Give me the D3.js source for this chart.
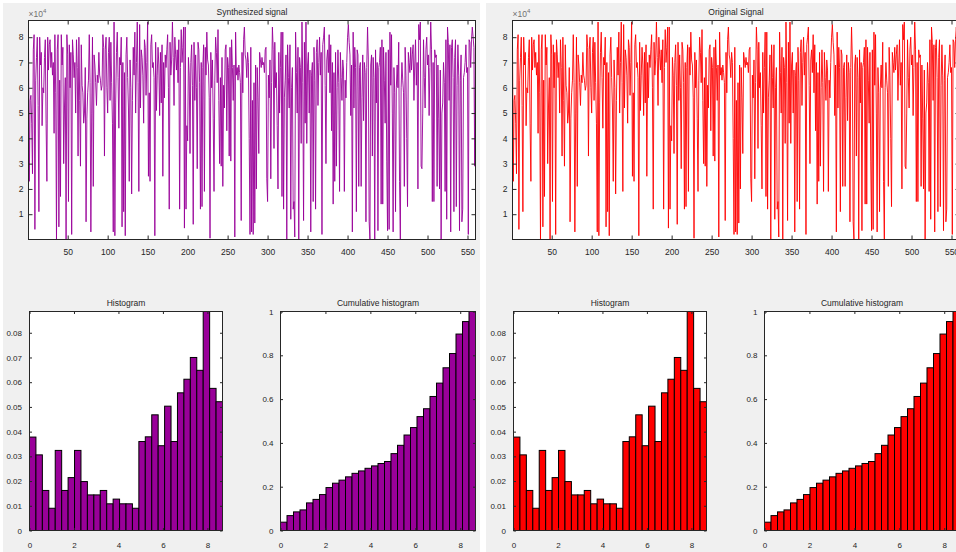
<!DOCTYPE html>
<html>
<head>
<meta charset="utf-8">
<script src="https://cdn.jsdelivr.net/npm/d3@7"></script>
<style>
  body { margin: 0; background: #ffffff; }
  svg { display: block; font-family: "Liberation Sans", Arial, sans-serif; }
  .tick text { fill: #262626; }
  .tick line { stroke: #262626; }
  .domain { stroke: none; }
</style>
</head>
<body>
<script>
// signal, in units of 10^4 (sample 1..560)
var signal = [
  7.8, 2.3, 5.5, 5.7, 4.6, 2.6, 7.5, 8.1, 0.4, 6.3,
  7.2, 8.0, 5.3, 1.1, 8.0, 6.9, 7.4, 4.5, 6.0, 5.8,
  7.2, 7.9, 4.6, 2.3, 8.0, 6.7, 7.7, 7.9, 6.8, 7.4,
  6.5, 7.0, 4.2, 8.1, 5.8, 0.0, 7.5, 8.1, 0.5, 6.3,
  1.7, 8.1, 6.9, 7.6, 3.0, 5.2, 6.4, 0.0, 8.1, 7.3,
  1.5, 7.7, 6.0, 7.4, 0.2, 7.9, 7.3, 6.4, 7.0, 5.0,
  7.9, 6.8, 3.3, 8.0, 5.5, 2.9, 7.7, 6.1, 5.8, 4.6,
  5.0, 6.8, 0.7, 4.8, 5.8, 6.3, 8.1, 6.2, 0.3, 5.0,
  8.0, 2.1, 7.3, 6.9, 6.2, 5.3, 6.5, 6.2, 7.4, 6.5,
  6.3, 5.9, 6.1, 8.1, 7.6, 3.3, 7.5, 8.0, 6.0, 5.0,
  7.4, 8.0, 5.5, 7.8, 6.2, 4.6, 0.3, 8.6, 0.15, 5.4,
  7.4, 8.2, 6.4, 4.4, 7.2, 6.9, 8.0, 0.5, 7.0, 1.1,
  6.6, 0.15, 7.3, 8.0, 6.4, 5.2, 2.3, 7.1, 6.0, 1.8,
  5.5, 7.6, 6.5, 8.2, 5.0, 7.0, 8.6, 6.2, 1.9, 8.5,
  5.2, 7.5, 7.2, 6.5, 4.6, 7.9, 7.6, 5.7, 7.0, 8.6,
  2.5, 5.8, 2.3, 7.7, 8.1, 6.8, 7.0, 6.4, 0.15, 7.8,
  5.1, 6.5, 7.6, 6.9, 4.9, 7.4, 5.4, 7.7, 2.5, 7.0,
  5.6, 7.3, 6.8, 7.5, 8.1, 6.0, 1.2, 7.8, 6.5, 7.1,
  8.6, 7.2, 5.3, 8.0, 7.3, 6.7, 7.5, 6.2, 7.9, 1.2,
  6.8, 8.3, 7.0, 7.6, 8.4, 0.45, 8.4, 1.2, 4.5, 3.9,
  7.2, 6.5, 3.4, 7.0, 7.7, 6.1, 0.6, 7.8, 5.5, 7.3,
  6.0, 2.8, 7.8, 7.5, 6.2, 1.2, 7.0, 1.3, 6.8, 7.7,
  1.9, 7.6, 6.5, 8.2, 7.1, 6.9, 5.6, 0.05, 7.4, 6.0,
  7.1, 4.8, 1.9, 6.3, 8.0, 7.4, 6.2, 8.3, 5.5, 3.0,
  6.4, 2.9, 7.2, 2.1, 6.1, 5.2, 7.5, 7.7, 4.3, 7.2,
  6.8, 3.3, 7.6, 3.1, 7.9, 6.8, 5.5, 6.9, 0.1, 8.2,
  6.5, 6.8, 6.3, 6.9, 6.6, 6.2, 0.75, 7.4, 5.8, 7.9,
  8.4, 7.3, 7.1, 6.4, 7.4, 7.0, 4.0, 0.2, 7.6, 0.3,
  5.5, 0.2, 6.2, 0.65, 6.9, 2.0, 6.8, 5.6, 3.4, 7.4,
  7.1, 6.8, 7.2, 6.9, 7.0, 6.6, 7.5, 7.6, 2.4, 1.5,
  6.5, 5.6, 7.1, 2.4, 6.2, 8.4, 7.5, 3.6, 7.8, 6.0,
  6.6, 4.5, 2.0, 7.4, 5.0, 6.8, 8.2, 1.7, 8.2, 1.2,
  5.6, 6.3, 7.3, 0.0, 7.7, 6.4, 5.2, 7.7, 0.8, 6.0,
  6.8, 1.2, 1.5, 0.1, 8.2, 6.6, 5.0, 7.6, 0.0, 7.2,
  6.8, 3.8, 8.6, 6.2, 0.75, 7.8, 4.6, 8.6, 3.8, 6.9,
  7.4, 5.0, 6.7, 0.3, 6.5, 7.0, 1.5, 7.6, 6.3, 1.2,
  7.4, 7.9, 5.3, 7.0, 8.0, 6.5, 7.4, 0.2, 7.7, 8.0,
  8.4, 6.1, 3.0, 7.1, 7.5, 6.6, 8.1, 5.8, 7.7, 4.3,
  7.0, 1.4, 6.6, 2.3, 7.4, 2.9, 6.0, 7.5, 6.2, 1.9,
  7.4, 6.4, 5.5, 7.1, 6.7, 1.9, 6.3, 5.6, 7.0, 8.0,
  8.5, 7.8, 7.3, 4.9, 6.9, 0.3, 8.2, 5.2, 7.6, 6.8,
  1.1, 7.5, 7.3, 2.1, 6.8, 7.0, 2.1, 5.6, 7.3, 4.7,
  7.0, 6.6, 0.7, 6.8, 8.4, 7.1, 0.7, 0.0, 6.9, 7.3,
  3.3, 7.2, 6.4, 0.0, 7.5, 5.4, 7.0, 0.35, 6.8, 7.0,
  7.6, 1.4, 7.9, 1.4, 7.6, 6.3, 4.6, 7.4, 3.1, 0.35,
  7.5, 0.4, 8.2, 6.1, 8.1, 5.0, 0.3, 6.8, 5.8, 1.1,
  6.0, 6.9, 6.0, 7.8, 2.3, 0.0, 6.0, 7.0, 6.3, 5.8,
  2.1, 7.6, 6.5, 4.0, 1.3, 7.4, 7.0, 6.6, 7.6, 6.7,
  7.3, 7.7, 5.5, 6.9, 7.9, 6.1, 7.0, 2.0, 8.5, 7.9,
  8.6, 2.9, 2.8, 5.0, 7.9, 6.4, 5.2, 7.5, 8.0, 6.9,
  7.3, 4.9, 6.8, 8.6, 7.5, 1.5, 7.0, 1.5, 7.5, 7.2,
  7.3, 2.1, 6.9, 4.8, 2.0, 6.7, 0.0, 5.0, 5.4, 7.0,
  6.2, 1.9, 7.9, 0.8, 8.4, 7.8, 5.5, 7.7, 0.3, 7.6,
  7.9, 6.4, 1.1, 7.2, 7.9, 1.3, 6.1, 7.7, 6.5, 0.35,
  6.3, 7.3, 0.7, 1.2, 6.4, 6.6, 7.0, 7.7, 6.6, 6.8,
  0.2, 7.9, 7.8, 6.8, 7.9, 8.4, 8.0, 7.6, 2.9, 7.9
];

// 30 bins over [0, 8.68]
var histValues = [
  0.0378, 0.0306, 0.0162, 0.0090, 0.0324, 0.0162, 0.0214, 0.0324, 0.0198, 0.0144,
  0.0144, 0.0162, 0.0108, 0.0127, 0.0108, 0.0108, 0.0090, 0.0360, 0.0379, 0.0468,
  0.0343, 0.0503, 0.0360, 0.0557, 0.0612, 0.0700, 0.0648, 0.0886, 0.0575, 0.0521
];
var cumValues = [
  0.038, 0.068, 0.085, 0.094, 0.126, 0.142, 0.164, 0.196, 0.216, 0.230,
  0.245, 0.261, 0.272, 0.284, 0.295, 0.306, 0.315, 0.351, 0.389, 0.436,
  0.470, 0.520, 0.556, 0.612, 0.673, 0.743, 0.808, 0.897, 0.954, 1.000
];
var histRange = [0, 8.68];

var signalTicksX = [50, 100, 150, 200, 250, 300, 350, 400, 450, 500, 550];
var signalTicksY = [1, 2, 3, 4, 5, 6, 7, 8];
var histTicksX = [0, 2, 4, 6, 8];
var histTicksY = [0, 0.01, 0.02, 0.03, 0.04, 0.05, 0.06, 0.07, 0.08];
var cumTicksY = [0, 0.2, 0.4, 0.6, 0.8, 1];

var panels = [
  {title: "Synthesized signal", color: "#990099", offset: 0, left: 3, right: 480},
  {title: "Original Signal", color: "#ff0000", offset: 484, left: 486, right: 956}
];

var width = 956, height = 552;
var fmt = function(d) { return String(+d.toFixed(4)); };

var svg = d3.select("body").append("svg")
  .attr("width", width)
  .attr("height", height);

// draws the box, mirrored inward ticks and labels for one axes
function drawAxes(g, x, y, xTicks, yTicks, tickLen, padX, padY, fontSize) {
  var x0 = x.range()[0], x1 = x.range()[1];
  var y0 = y.range()[1], y1 = y.range()[0];

  g.append("g")
    .attr("transform", "translate(0," + y1 + ")")
    .call(d3.axisBottom(x).tickValues(xTicks).tickFormat(fmt)
      .tickSizeInner(-tickLen).tickSizeOuter(0).tickPadding(padX))
    .style("font-size", fontSize + "px");

  g.append("g")
    .attr("transform", "translate(0," + y0 + ")")
    .call(d3.axisTop(x).tickValues(xTicks).tickFormat("")
      .tickSizeInner(-tickLen).tickSizeOuter(0));

  g.append("g")
    .attr("transform", "translate(" + x0 + ",0)")
    .call(d3.axisLeft(y).tickValues(yTicks).tickFormat(fmt)
      .tickSizeInner(-tickLen).tickSizeOuter(0).tickPadding(padY))
    .style("font-size", fontSize + "px");

  g.append("g")
    .attr("transform", "translate(" + x1 + ",0)")
    .call(d3.axisRight(y).tickValues(yTicks).tickFormat("")
      .tickSizeInner(-tickLen).tickSizeOuter(0));

  g.selectAll(".tick text").attr("font-family", null);
  g.selectAll("g").attr("font-family", null);

  g.append("rect")
    .attr("x", x0).attr("y", y0)
    .attr("width", x1 - x0).attr("height", y1 - y0)
    .attr("fill", "none")
    .attr("stroke", "#262626")
    .attr("stroke-width", 1);
}

function addTitle(g, x, y, text) {
  g.append("text")
    .attr("x", (x.range()[0] + x.range()[1]) / 2)
    .attr("y", y)
    .attr("text-anchor", "middle")
    .style("font-size", "8.5px")
    .attr("fill", "#262626")
    .text(text);
}

function drawPanel(p, idx) {
  var clipId = "fig" + idx;
  svg.append("clipPath").attr("id", clipId)
    .append("rect")
    .attr("x", p.left).attr("y", 0)
    .attr("width", p.right - p.left).attr("height", height);

  var fig = svg.append("g").attr("clip-path", "url(#" + clipId + ")");

  fig.append("rect")
    .attr("x", p.left).attr("y", 3)
    .attr("width", p.right - p.left).attr("height", height - 3)
    .attr("fill", "#f0f0f0");

  var g = fig.append("g").attr("transform", "translate(" + p.offset + ",0)");

  // ---- signal
  var sx = d3.scaleLinear().domain([1, signal.length]).range([28.5, 475.5]);
  var sy = d3.scaleLinear().domain([0, 8.66]).range([239.5, 20.5]);

  g.append("rect")
    .attr("x", 28.5).attr("y", 20.5)
    .attr("width", 447).attr("height", 219)
    .attr("fill", "#ffffff");

  var line = d3.line()
    .x(function(d, i) { return sx(i + 1); })
    .y(function(d) { return sy(d); });

  g.append("path")
    .datum(signal)
    .attr("d", line)
    .attr("fill", "none")
    .attr("stroke", p.color)
    .attr("stroke-width", 0.9)
    .attr("stroke-linejoin", "round");

  drawAxes(g, sx, sy, signalTicksX, signalTicksY, 4, 9.5, 5, 8.5);
  addTitle(g, sx, 14.5, p.title);

  var exp = g.append("text")
    .attr("x", 28.5).attr("y", 16.5)
    .style("font-size", "8.5px")
    .attr("fill", "#707070")
    .text("\u00d710");
  exp.append("tspan")
    .attr("dy", -4)
    .style("font-size", "6px")
    .text("4");

  // ---- histogram
  var binW = (histRange[1] - histRange[0]) / histValues.length;

  var hx = d3.scaleLinear().domain(histRange).range([29.5, 222.5]);
  var hy = d3.scaleLinear().domain([0, d3.max(histValues)]).range([530.5, 311.5]);

  g.append("rect")
    .attr("x", 29.5).attr("y", 311.5)
    .attr("width", 193).attr("height", 219)
    .attr("fill", "#ffffff");

  g.append("g").selectAll("rect")
    .data(histValues)
    .enter().append("rect")
    .attr("x", function(d, i) { return hx(histRange[0] + i * binW); })
    .attr("y", function(d) { return hy(d); })
    .attr("width", hx(binW) - hx(0))
    .attr("height", function(d) { return hy(0) - hy(d); })
    .attr("fill", p.color)
    .attr("stroke", "#000")
    .attr("stroke-width", 1);

  drawAxes(g, hx, hy, histTicksX, histTicksY, 2.5, 12, 7.5, 8);
  addTitle(g, hx, 305.5, "Histogram");

  // ---- cumulative histogram
  var cx = d3.scaleLinear().domain(histRange).range([280.5, 475.5]);
  var cy = d3.scaleLinear().domain([0, 1]).range([530.5, 311.5]);

  g.append("rect")
    .attr("x", 280.5).attr("y", 311.5)
    .attr("width", 195).attr("height", 219)
    .attr("fill", "#ffffff");

  g.append("g").selectAll("rect")
    .data(cumValues)
    .enter().append("rect")
    .attr("x", function(d, i) { return cx(histRange[0] + i * binW); })
    .attr("y", function(d) { return cy(d); })
    .attr("width", cx(binW) - cx(0))
    .attr("height", function(d) { return cy(0) - cy(d); })
    .attr("fill", p.color)
    .attr("stroke", "#000")
    .attr("stroke-width", 1);

  drawAxes(g, cx, cy, histTicksX, cumTicksY, 2.5, 12, 7, 8);
  addTitle(g, cx, 305.5, "Cumulative histogram");
}

panels.forEach(drawPanel);
</script>
</body>
</html>
